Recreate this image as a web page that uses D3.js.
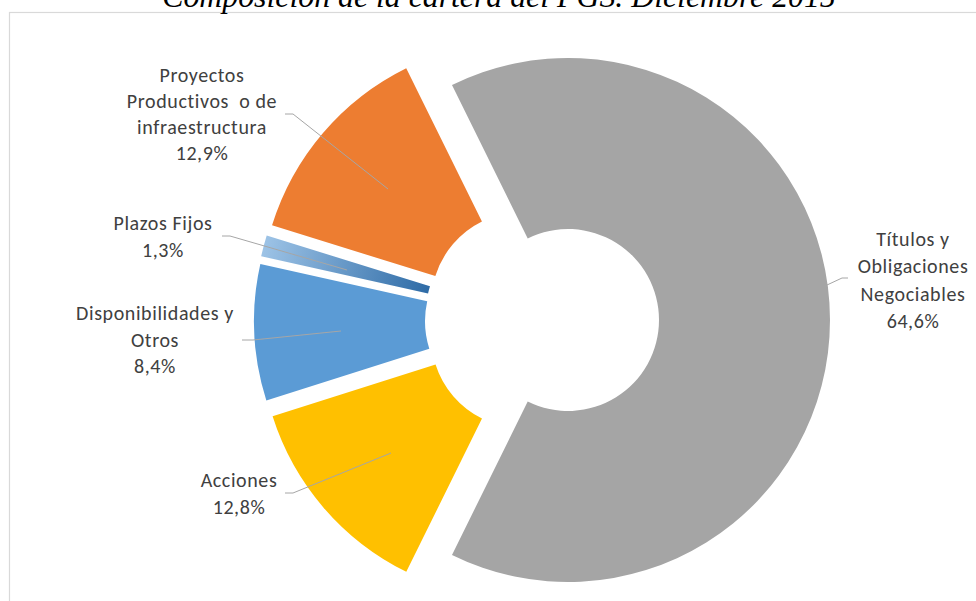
<!DOCTYPE html>
<html>
<head>
<meta charset="utf-8">
<script src="https://cdn.jsdelivr.net/npm/d3@7"></script>
<style>
  html, body { margin: 0; padding: 0; background: #fff; }
  svg { display: block; }
</style>
</head>
<body>
<svg id="chart" width="976" height="601"></svg>
<script>
// Portfolio composition, in the order the slices run clockwise
const categories = [
  "Títulos y Obligaciones Negociables",
  "Acciones",
  "Disponibilidades y Otros",
  "Plazos Fijos",
  "Proyectos Productivos o de infraestructura"
];
const shares = [64.6, 12.8, 8.4, 1.3, 12.9];
const valueLabels = ["64,6%", "12,8%", "8,4%", "1,3%", "12,9%"];
const labelLines = [
  ["Títulos y", "Obligaciones", "Negociables"],
  ["Acciones"],
  ["Disponibilidades y", "Otros"],
  ["Plazos Fijos"],
  ["Proyectos", "Productivos  o de", "infraestructura"]
];
const colors = ["#A5A5A5", "#FFC000", "#5B9BD5", "url(#plazosGrad)", "#ED7D31"];
const titleText = "Composición de la cartera del FGS. Diciembre 2015";

const svg = d3.select("#chart");
const W = 976, H = 601;
const cx = 542, cy = 320;
const outerR = 262, innerR = 91, explode = 26;

// chart frame
svg.append("rect")
  .attr("x", 9.5).attr("y", 12.5)
  .attr("width", W + 10).attr("height", H + 10)
  .attr("fill", "#fff").attr("stroke", "#D9D9D9").attr("stroke-width", 1.2);

// title (sits above the frame)
svg.append("text")
  .attr("x", 499).attr("y", 6.5)
  .attr("text-anchor", "middle")
  .attr("font-family", "'Liberation Serif', 'Times New Roman', serif")
  .attr("font-style", "italic")
  .attr("font-size", 31.8)
  .attr("fill", "#000")
  .text(titleText);

// largest slice centred on the right-hand side
const firstSpan = shares[0] / d3.sum(shares) * 2 * Math.PI;
const pie = d3.pie().sort(null).value(d => d)
  .startAngle(Math.PI / 2 - firstSpan / 2)
  .endAngle(Math.PI / 2 - firstSpan / 2 + 2 * Math.PI);
const arcs = pie(shares);
const arc = d3.arc().innerRadius(innerR).outerRadius(outerR);

const mid = a => (a.startAngle + a.endAngle) / 2;
const offset = (a, r) => [Math.sin(mid(a)) * r, -Math.cos(mid(a)) * r];

// gradient for the thin slice: light at the rim, dark at the hole
// (coordinates in the slice path's own local space)
const pf = arcs[3];
const [ox, oy] = offset(pf, outerR);
const [ix, iy] = offset(pf, innerR);
const grad = svg.append("defs").append("linearGradient")
  .attr("id", "plazosGrad")
  .attr("gradientUnits", "userSpaceOnUse")
  .attr("x1", ox).attr("y1", oy)
  .attr("x2", ix).attr("y2", iy);
grad.append("stop").attr("offset", "0%").attr("stop-color", "#9DC3E6");
grad.append("stop").attr("offset", "100%").attr("stop-color", "#2E6BA6");

const g = svg.append("g").attr("transform", `translate(${cx},${cy})`);
g.selectAll("path.slice")
  .data(arcs)
  .join("path")
  .attr("class", "slice")
  .attr("transform", d => `translate(${offset(d, explode)})`)
  .attr("d", arc)
  .attr("fill", (d, i) => colors[i]);

// data labels with leader lines
const labelPos = [
  { x: 913, y: 241, lh: 27.3, leader: [[848, 278], [842, 278], [827, 285]] },
  { x: 239, y: 482, lh: 26.5, leader: [[285, 493], [293, 493], [391, 453]] },
  { x: 155, y: 315, lh: 26.5, leader: [[242, 340], [253, 340], [341, 331]] },
  { x: 163, y: 225, lh: 26.5, leader: [[222, 236], [230, 236], [347, 270]] },
  { x: 202, y: 77, lh: 26, leader: [[285, 114], [293, 114], [388, 189]] }
];

svg.append("g").selectAll("path.leader")
  .data(labelPos)
  .join("path")
  .attr("class", "leader")
  .attr("d", d => d3.line()(d.leader))
  .attr("fill", "none")
  .attr("stroke", "#A6A6A6")
  .attr("stroke-width", 1);

const labels = svg.append("g")
  .attr("font-family", "Carlito, Calibri, Lato, 'Open Sans', sans-serif")
  .attr("font-size", 20)
  .attr("letter-spacing", 0.6)
  .attr("fill", "#404040")
  .attr("text-anchor", "middle");

labelPos.forEach((p, i) => {
  const lines = labelLines[i].concat([valueLabels[i]]);
  const t = labels.append("text")
    .attr("x", p.x).attr("y", p.y)
    .attr("dominant-baseline", "middle")
    .attr("xml:space", "preserve");
  lines.forEach((ln, k) => {
    t.append("tspan")
      .attr("x", p.x)
      .attr("y", p.y + k * p.lh)
      .text(ln);
  });
});
</script>
</body>
</html>
